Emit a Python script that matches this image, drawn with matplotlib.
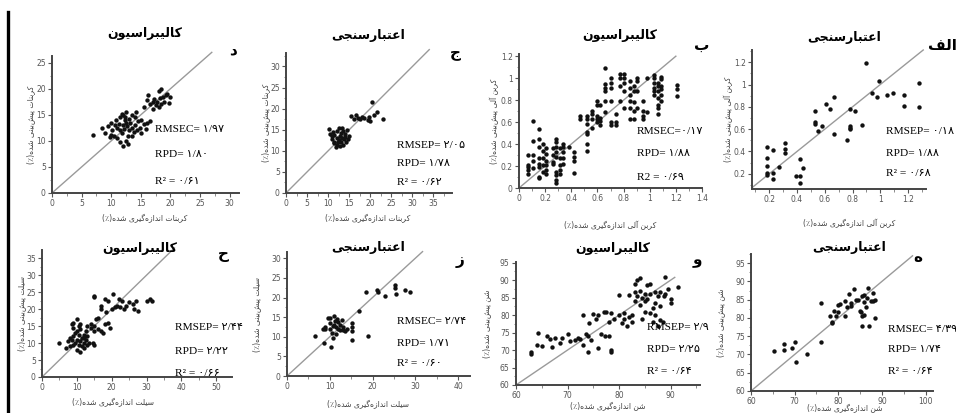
import matplotlib
matplotlib.use('Agg')
import matplotlib.pyplot as plt
from matplotlib.ticker import AutoMinorLocator, FixedLocator, FuncFormatter
from matplotlib.lines import Line2D

# ---- data ----
# carbonate, calibration (د)
carb_cal_x = [7.0, 8.5, 9.0, 9.5, 10.0, 10.2, 10.5, 10.8, 11.0, 11.0, 11.3, 11.5, 11.5, 11.8, 12.0,
              12.0, 12.2, 12.3, 12.5, 12.5, 12.5, 12.7, 12.8, 13.0, 13.0, 13.2, 13.5, 13.5, 13.8, 14.0,
              14.0, 14.3, 14.5, 14.8, 15.0, 15.0, 15.5, 15.8, 16.0, 16.5, 12.0, 11.5, 12.8, 10.0, 13.6,
              12.4, 11.8, 14.2, 10.6, 9.8, 15.5, 16.0, 16.2, 16.5, 17.0, 17.2, 17.5, 17.8, 18.0, 18.2,
              18.5, 18.5, 18.8, 19.0, 19.2, 19.5, 20.0, 19.8, 17.0, 18.0]
carb_cal_y = [11.2, 12.5, 11.5, 12.8, 13.5, 12.0, 11.0, 14.0, 12.5, 10.5, 13.2, 12.0, 14.5, 11.5, 13.0,
              15.0, 12.2, 14.0, 10.0, 13.5, 15.5, 12.8, 11.0, 14.2, 12.0, 13.5, 12.5, 15.0, 11.8, 13.0,
              14.5, 12.0, 13.8, 12.5, 11.5, 14.0, 13.2, 12.2, 13.5, 13.8, 9.0, 9.8, 9.5, 11.2, 11.0,
              14.6, 15.2, 15.5, 13.0, 10.8, 16.5, 17.8, 18.8, 17.0, 17.5, 18.0, 16.8, 17.5, 19.5, 18.2,
              17.0, 20.0, 18.5, 17.5, 18.8, 19.0, 18.5, 17.2, 16.2, 16.5]

# carbonate, validation (ج)
carb_val_x = [10.2, 10.5, 10.8, 11.0, 11.2, 11.5, 11.5, 11.8, 12.0, 12.0, 12.2, 12.5, 12.5, 12.8, 12.8,
              13.0, 13.0, 13.2, 13.5, 13.5, 13.8, 14.0, 14.0, 14.2, 14.5, 14.8, 15.0, 13.3, 12.3, 11.3,
              15.5, 16.5, 17.0, 17.5, 18.0, 18.5, 19.5, 19.8, 20.3, 21.0, 21.5, 23.0, 16.2, 20.0]
carb_val_y = [15.2, 14.0, 13.5, 12.8, 14.5, 12.0, 13.8, 10.8, 11.5, 13.0, 14.8, 12.5, 15.5, 13.5, 11.2,
              14.2, 12.0, 13.0, 14.8, 11.5, 12.8, 14.0, 13.2, 12.0, 15.0, 12.8, 13.5, 15.3, 12.2, 11.8,
              18.2, 18.5, 17.8, 17.5, 18.0, 17.8, 17.2, 18.0, 21.5, 18.5, 19.2, 17.5, 17.6, 17.0]

# organic carbon, calibration (ب)
oc_cal_x = [0.07, 0.07, 0.07, 0.07, 0.07, 0.11, 0.11, 0.11, 0.11, 0.11,
            0.15, 0.15, 0.15, 0.15, 0.15, 0.15, 0.15, 0.15, 0.18, 0.18, 0.18, 0.18, 0.18,
            0.21, 0.21, 0.21, 0.21, 0.21, 0.21, 0.26, 0.26, 0.26, 0.26,
            0.28, 0.28, 0.28, 0.28, 0.28, 0.28, 0.28, 0.28, 0.28,
            0.31, 0.31, 0.31, 0.31, 0.31, 0.34, 0.34, 0.34, 0.34, 0.34,
            0.38, 0.42, 0.42, 0.42, 0.42, 0.47, 0.47,
            0.52, 0.52, 0.52, 0.52, 0.52, 0.52, 0.52, 0.56, 0.56, 0.56, 0.56,
            0.60, 0.60, 0.60, 0.60, 0.60, 0.62, 0.62, 0.62, 0.62,
            0.66, 0.66, 0.66, 0.66, 0.66, 0.66, 0.70, 0.70, 0.70, 0.70, 0.70, 0.70,
            0.74, 0.74, 0.74, 0.77, 0.77, 0.77, 0.77, 0.80, 0.80, 0.80, 0.80, 0.80,
            0.85, 0.85, 0.85, 0.85, 0.85, 0.85, 0.88, 0.88, 0.88, 0.88, 0.88,
            0.90, 0.90, 0.90, 0.90, 0.95, 0.95, 0.95, 0.95, 0.98, 0.98,
            1.03, 1.03, 1.03, 1.03, 1.03, 1.03, 1.06, 1.06, 1.06, 1.06, 1.06, 1.06, 1.06,
            1.09, 1.09, 1.09, 1.09, 1.09, 1.09, 1.21, 1.21, 1.21]
oc_cal_y = [0.30, 0.19, 0.16, 0.13, 0.21, 0.30, 0.18, 0.43, 0.61, 0.25,
            0.54, 0.45, 0.27, 0.22, 0.10, 0.09, 0.37, 0.19, 0.40, 0.34, 0.27, 0.21, 0.15,
            0.36, 0.31, 0.25, 0.21, 0.16, 0.13, 0.30, 0.24, 0.22, 0.36,
            0.45, 0.42, 0.37, 0.33, 0.28, 0.15, 0.12, 0.07, 0.05,
            0.36, 0.27, 0.21, 0.16, 0.13, 0.40, 0.37, 0.33, 0.27, 0.22,
            0.37, 0.33, 0.28, 0.25, 0.14, 0.66, 0.63,
            0.66, 0.63, 0.58, 0.49, 0.40, 0.34, 0.51, 0.70, 0.67, 0.63, 0.55,
            0.79, 0.76, 0.66, 0.63, 0.60, 0.76, 0.64, 0.61, 0.57,
            1.09, 0.95, 0.91, 0.88, 0.79, 0.69, 1.00, 0.96, 0.91, 0.79, 0.60, 0.57,
            0.67, 0.60, 0.57, 1.04, 1.00, 0.93, 0.79, 1.04, 1.00, 0.96, 0.88, 0.73,
            0.97, 0.91, 0.85, 0.79, 0.73, 0.63, 0.93, 0.88, 0.78, 0.63, 0.70,
            1.00, 0.97, 0.73, 0.88, 0.79, 0.70, 0.66, 0.63, 1.00, 0.69,
            1.03, 1.00, 0.96, 0.91, 0.88, 0.85, 0.96, 0.93, 0.88, 0.82, 0.76, 0.73, 0.67,
            1.01, 0.99, 0.93, 0.90, 0.85, 0.79, 0.94, 0.90, 0.84]

# organic carbon, validation (الف)
oc_val_x = [0.18, 0.18, 0.18, 0.18, 0.18, 0.23, 0.23, 0.23, 0.27, 0.31, 0.31, 0.31, 0.39, 0.42, 0.42,
            0.42, 0.44, 0.53, 0.53, 0.53, 0.55, 0.58, 0.61, 0.64, 0.67, 0.67, 0.76, 0.78, 0.78, 0.78,
            0.78, 0.82, 0.87, 0.90, 0.94, 0.98, 0.99, 1.05, 1.09, 1.17, 1.17, 1.28, 1.28]
oc_val_y = [0.44, 0.34, 0.27, 0.21, 0.19, 0.41, 0.21, 0.15, 0.26, 0.48, 0.42, 0.39, 0.18, 0.18, 0.33,
            0.12, 0.25, 0.76, 0.66, 0.65, 0.58, 0.63, 0.83, 0.78, 0.89, 0.56, 0.50, 0.78, 0.63, 0.61,
            0.60, 0.76, 0.64, 1.19, 0.92, 0.89, 1.03, 0.91, 0.92, 0.91, 0.81, 1.01, 0.80]

# silt, calibration (ح)
silt_cal_x = [5, 7, 7.5, 8, 8.5, 8.5, 9, 9, 9, 9.5, 9.5, 10, 10, 10, 10.5, 10.5, 10.5, 11, 11, 11,
              11, 11.5, 11.5, 12, 12, 12, 12.5, 12.5, 13, 13, 13.5, 14, 14, 14.5, 14.8, 15, 15, 15.5,
              16, 17, 17.5, 13, 10, 9, 8, 12,
              15, 15, 17, 18, 18.5, 19, 19.5, 19, 20, 20.5, 21, 21.5, 22, 22.5, 23, 23.5, 24, 25,
              26, 26.5, 27, 27.5, 30, 31, 31.5, 17, 16, 18]
silt_cal_y = [10, 8.5, 10.5, 9, 11, 15.5, 16, 12, 9.5, 10, 13, 17, 11, 8, 12.5, 9.5, 15, 10.5, 7.5, 14,
              15.5, 11.5, 9, 10, 12.5, 8.5, 11, 13.5, 9.5, 15, 10, 15.5, 14.5, 10, 9.5, 15, 13.5, 17,
              14, 13.5, 13, 12, 13.5, 14.5, 11.5, 11.5,
              24, 23.5, 20, 23, 19, 16, 14.5, 22.5, 20, 24.5, 20.5, 21, 23, 20.5, 22.5, 20, 21, 22,
              21.5, 20, 22.5, 19.5, 22.5, 23, 22.5, 21, 17.5, 15.5]

# silt, validation (ز)
silt_val_x = [6.5, 8.5, 8.7, 9, 9.5, 10, 10, 10.3, 10.5, 10.8, 11, 11, 11.2, 11.5, 11.8, 12, 12, 12.5,
              12.8, 13, 13.2, 13.5, 14, 15.3, 15.3, 15.2, 15.2, 16.8, 18.5, 19, 21, 21.3, 23, 25.3,
              25.3, 25.5, 27.5, 28.7, 10, 11.5, 12.5, 9, 10.7]
silt_val_y = [10.2, 12, 8.5, 12.5, 14.8, 13.5, 12, 7.5, 11, 9.8, 15.2, 13, 14, 12.5, 14.5, 13.8, 12, 13,
              14.2, 11.8, 12.5, 11.5, 12, 13.5, 12.5, 11.5, 9.2, 16.5, 21.4, 10.3, 22, 21.5, 20.5, 23.3,
              22.5, 21, 22, 21.5, 14.8, 10.8, 11.7, 12, 12.7]

# sand, calibration (و)
sand_cal_x = [63, 63, 64, 64.3, 65, 66, 66.5, 67, 67.5, 68.5, 69, 70, 70.5, 71.5, 72, 72.5, 73, 73,
              73.5, 74, 74, 74.5, 74.2, 75, 75.5, 76, 76, 76.5, 77, 77.5, 77.2, 78, 78, 78.5, 78.5,
              78.5, 79, 80, 80, 80.5, 81, 81, 81.5, 82, 82.5, 82.5, 83, 83, 83, 83.5, 83.5, 84, 84,
              84.5, 84.5, 85, 85, 85, 85.5, 86, 86, 86, 86.5, 86.5, 87, 87, 87, 87.5, 87.5, 88, 88,
              88, 88.5, 88.8, 89, 89, 89.5, 90, 90, 91.5, 84, 82, 85.5]
sand_cal_y = [69, 69.5, 71.5, 75, 71.3, 74, 73.2, 71, 73.5, 72, 73.5, 74.5, 72.5, 73, 73.5, 73.3, 80,
              71.5, 74.5, 74, 69.5, 73, 77.8, 80.2, 79, 70.5, 80, 74.5, 81, 81, 74, 78, 74, 70, 69.5,
              80.5, 79, 80, 85.8, 77.8, 79, 80.5, 77, 79.5, 78, 80, 84, 86.5, 88.8, 85.5, 90, 87, 83,
              85, 79, 86, 84, 81, 84.5, 89, 86, 80.5, 78, 82, 83.5, 86.5, 80, 85.5, 76.8, 86.5, 82.5,
              78.5, 78, 85.5, 86, 91, 87.5, 84.5, 83.5, 88, 90.5, 85.8, 88.5]

# sand, validation (ه)
sand_val_x = [65.2, 67.5, 67.5, 69.5, 70, 70.3, 72.8, 76, 76, 78, 78.5, 78.5, 79, 79.5, 80, 80, 80.5,
              81.5, 81.5, 82, 82.5, 83, 83, 83.5, 84, 84.5, 85, 85.3, 85.5, 85.5, 85.5, 86, 86, 86,
              86.3, 86.5, 86.8, 87, 87.5, 88, 88, 88.3, 88.5]
sand_val_y = [71, 71.2, 72.8, 71.8, 73.4, 68, 70.2, 84, 73.3, 80.5, 78.5, 79, 82, 80.5, 81.5, 83.5, 83.8,
              80.5, 84.5, 83, 86.5, 83.2, 84, 88, 85, 85, 82, 81.5, 86, 80.5, 77.8, 86.3, 80.7, 84.3,
              83, 85.5, 88.3, 77.8, 84.5, 86.7, 84.5, 85, 80]

titles = ['کالیبراسیون', 'اعتبارسنجی', 'کالیبراسیون', 'اعتبارسنجی',
          'کالیبراسیون', 'اعتبارسنجی', 'کالیبراسیون', 'اعتبارسنجی']
letters = ['د', 'ج', 'ب', 'الف', 'ح', 'ز', 'و', 'ه']
xlabels = ['کربنات اندازه‌گیری شده(٪)', 'کربنات اندازه‌گیری شده(٪)',
           'کربن آلی اندازه‌گیری شده(٪)', 'کربن آلی اندازه‌گیری شده(٪)',
           'سیلت اندازه‌گیری شده(٪)', 'سیلت اندازه‌گیری شده(٪)',
           'شن اندازه‌گیری شده(٪)', 'شن اندازه‌گیری شده(٪)']
ylabels = ['کربنات پیش‌بینی شده(٪)', 'کربنات پیش‌بینی شده(٪)',
           'کربن آلی پیش‌بینی شده(٪)', 'کربن آلی پیش‌بینی شده(٪)',
           'سیلت پیش‌بینی شده(٪)', 'سیلت پیش‌بینی شده(٪)',
           'شن پیش‌بینی شده(٪)', 'شن پیش‌بینی شده(٪)']
stats = [['RMSEC= ۱/۹۷', 'RPD= ۱/۸۰', 'R² = ۰/۶۱'],
         ['RMSEP= ۲/۰۵', 'RPD= ۱/۷۸', 'R² = ۰/۶۲'],
         ['RMSEC=۰/۱۷', 'RPD= ۱/۸۸', 'R2 = ۰/۶۹'],
         ['RMSEP= ۰/۱۸', 'RPD= ۱/۸۸', 'R² = ۰/۶۸'],
         ['RMSEP= ۲/۴۴', 'RPD= ۲/۲۲', 'R² = ۰/۶۶'],
         ['RMSEC= ۲/۷۴', 'RPD= ۱/۷۱', 'R² = ۰/۶۰'],
         ['RMSEP= ۲/۹', 'RPD= ۲/۲۵', 'R² = ۰/۶۴'],
         ['RMSEC= ۴/۳۹', 'RPD= ۱/۷۴', 'R² = ۰/۶۴']]
xticks = [[0, 5, 10, 15, 20, 25, 30], [0, 5, 10, 15, 20, 25, 30, 35],
          [0, 0.2, 0.4, 0.6, 0.8, 1, 1.2, 1.4], [0.2, 0.4, 0.6, 0.8, 1, 1.2],
          [0, 10, 20, 30, 40, 50], [0, 10, 20, 30, 40],
          [60, 70, 80, 90], [60, 70, 80, 90, 100]]
yticks = [[0, 5, 10, 15, 20, 25], [0, 5, 10, 15, 20, 25, 30],
          [0, 0.2, 0.4, 0.6, 0.8, 1, 1.2], [0.2, 0.4, 0.6, 0.8, 1, 1.2],
          [0, 5, 10, 15, 20, 25, 30, 35], [0, 5, 10, 15, 20, 25, 30],
          [60, 65, 70, 75, 80, 85, 90, 95], [60, 65, 70, 75, 80, 85, 90, 95]]
series = [(carb_cal_x, carb_cal_y), (carb_val_x, carb_val_y),
          (oc_cal_x, oc_cal_y), (oc_val_x, oc_val_y),
          (silt_cal_x, silt_cal_y), (silt_val_x, silt_val_y),
          (sand_cal_x, sand_cal_y), (sand_val_x, sand_val_y)]

# ---- layout (pixels) ----
W, H = 956, 413
# axes box: x0, x1, top, bottom
boxes = [(52, 239, 56, 193), (286, 452, 53, 193), (519, 702, 54, 188), (752, 926, 50, 189),
         (42, 232, 250, 377), (287, 470, 252, 376), (516, 700, 262, 385), (751, 933, 254, 391)]
xlims = [(0, 31.6), (0, 39.4), (0, 1.4), (0.075, 1.33), (0, 54.5), (0, 42.8), (60, 95.7), (60, 101.7)]
ylims = [(0, 26.3), (0, 33.2), (0, 1.22), (0.063, 1.31), (0, 37.4), (0, 31.6), (60, 95.2), (60, 97.5)]
diag = [(0, 27), (0, 34), (0, 1.2), (0.075, 1.31), (0, 38), (0, 31.7), (60, 90.8), (60, 97)]
title_pos = [(145, 33), (368, 36), (620, 35), (844, 37), (140, 249), (368, 247), (613, 249), (849, 247)]
letter_pos = [(233, 50), (455, 52), (702, 45), (942, 45), (223, 255), (460, 260), (697, 260), (918, 258)]
stat_pos = [(155, [130, 155, 182]), (397, [146, 163, 183]), (637, [131, 154, 177]),
            (886, [131, 153, 174]), (175, [328, 352, 373]), (397, [322, 343, 364]),
            (647, [328, 350, 372]), (888, [330, 350, 372])]
xlab_pos = [(145, 219), (368, 219), (610, 225), (849, 223), (113, 403), (368, 405), (608, 407), (845, 409)]
ylab_x = [31, 266, 494, 728, 22, 257, 487, 721]

FORMS = {
    'ا': ('\uFE8D', '\uFE8E', None, None), 'آ': ('\uFE81', '\uFE82', None, None),
    'ب': ('\uFE8F', '\uFE90', '\uFE91', '\uFE92'), 'پ': ('\uFB56', '\uFB57', '\uFB58', '\uFB59'),
    'ت': ('\uFE95', '\uFE96', '\uFE97', '\uFE98'), 'ج': ('\uFE9D', '\uFE9E', '\uFE9F', '\uFEA0'),
    'ح': ('\uFEA1', '\uFEA2', '\uFEA3', '\uFEA4'), 'د': ('\uFEA9', '\uFEAA', None, None),
    'ر': ('\uFEAD', '\uFEAE', None, None), 'ز': ('\uFEAF', '\uFEB0', None, None),
    'س': ('\uFEB1', '\uFEB2', '\uFEB3', '\uFEB4'), 'ش': ('\uFEB5', '\uFEB6', '\uFEB7', '\uFEB8'),
    'ع': ('\uFEC9', '\uFECA', '\uFECB', '\uFECC'), 'ف': ('\uFED1', '\uFED2', '\uFED3', '\uFED4'),
    'ک': ('\uFB8E', '\uFB8F', '\uFB90', '\uFB91'), 'گ': ('\uFB92', '\uFB93', '\uFB94', '\uFB95'),
    'ل': ('\uFEDD', '\uFEDE', '\uFEDF', '\uFEE0'), 'ن': ('\uFEE5', '\uFEE6', '\uFEE7', '\uFEE8'),
    'ه': ('\uFEE9', '\uFEEA', '\uFEEB', '\uFEEC'), 'و': ('\uFEED', '\uFEEE', None, None),
    'ی': ('\uFBFC', '\uFBFD', '\uFBFE', '\uFBFF'),
}
MIRROR = {'(': ')', ')': '('}


def fa(s):
    # crude persian shaping + right-to-left ordering (no bidi lib here)
    out = []
    for i, c in enumerate(s):
        if c not in FORMS:
            if c != '\u200c':
                out.append(MIRROR.get(c, c))
            continue
        p = s[i - 1] if i > 0 else ''
        n = s[i + 1] if i + 1 < len(s) else ''
        jp = p in FORMS and FORMS[p][2] is not None
        jn = n in FORMS and FORMS[c][2] is not None
        f = FORMS[c]
        if jp and jn:
            out.append(f[3])
        elif jp:
            out.append(f[1])
        elif jn:
            out.append(f[2])
        else:
            out.append(f[0])
    return ''.join(out[::-1])


def fx(px):
    return px / W


def fy(py):
    return 1 - py / H


fig = plt.figure(figsize=(W / 100, H / 100), dpi=100)
fig.patch.set_facecolor('white')

fig.add_artist(Line2D([fx(8), fx(8)], [fy(12), fy(413)], color='black', lw=2.4))

for i in range(8):
    x0, x1, top, bot = boxes[i]
    ax = fig.add_axes([fx(x0), fy(bot), (x1 - x0) / W, (bot - top) / H])
    xs, ys = series[i]
    ax.scatter(xs, ys, s=10, color='#111111', zorder=3, linewidths=0)
    d0, d1 = diag[i]
    ax.plot([d0, d1], [d0, d1], color='#9a9a9a', lw=1.0, clip_on=False, zorder=2)
    ax.set_xlim(*xlims[i])
    ax.set_ylim(*ylims[i])
    ax.xaxis.set_major_locator(FixedLocator(xticks[i]))
    ax.yaxis.set_major_locator(FixedLocator(yticks[i]))
    ax.xaxis.set_minor_locator(AutoMinorLocator(2))
    ax.yaxis.set_minor_locator(AutoMinorLocator(2))
    ax.xaxis.set_major_formatter(FuncFormatter(lambda v, p: '%g' % v))
    ax.yaxis.set_major_formatter(FuncFormatter(lambda v, p: '%g' % v))
    for sp in ['top', 'right']:
        ax.spines[sp].set_visible(False)
    for sp in ['left', 'bottom']:
        ax.spines[sp].set_color('#444444')
        ax.spines[sp].set_linewidth(1.4)
    ax.tick_params(which='major', length=3, width=0.8, color='#555555', labelsize=5.5,
                   labelcolor='#555555', pad=1.5)
    ax.tick_params(which='minor', length=1.8, width=0.6, color='#777777')
    ax.set_facecolor('none')

    tx, ty = title_pos[i]
    fig.text(fx(tx), fy(ty), fa(titles[i]), ha='center', va='center', fontsize=9,
             fontweight='bold', family='DejaVu Sans')
    lx, ly = letter_pos[i]
    fig.text(fx(lx), fy(ly), fa(letters[i]), ha='center', va='center', fontsize=11,
             fontweight='bold', family='DejaVu Sans')
    sx, sys_ = stat_pos[i]
    for line, yy in zip(stats[i], sys_):
        fig.text(fx(sx), fy(yy), line, ha='left', va='center', fontsize=8.2,
                 family=['Liberation Serif', 'DejaVu Sans'])
    bx, by = xlab_pos[i]
    fig.text(fx(bx), fy(by), fa(xlabels[i]), ha='center', va='center', fontsize=5.5,
             color='#444444', family='DejaVu Sans')
    fig.text(fx(ylab_x[i]), fy((top + bot) / 2), fa(ylabels[i]), ha='center', va='center',
             rotation=90, fontsize=5.5, color='#444444', family='DejaVu Sans')

fig.savefig('out.png', dpi=100)
